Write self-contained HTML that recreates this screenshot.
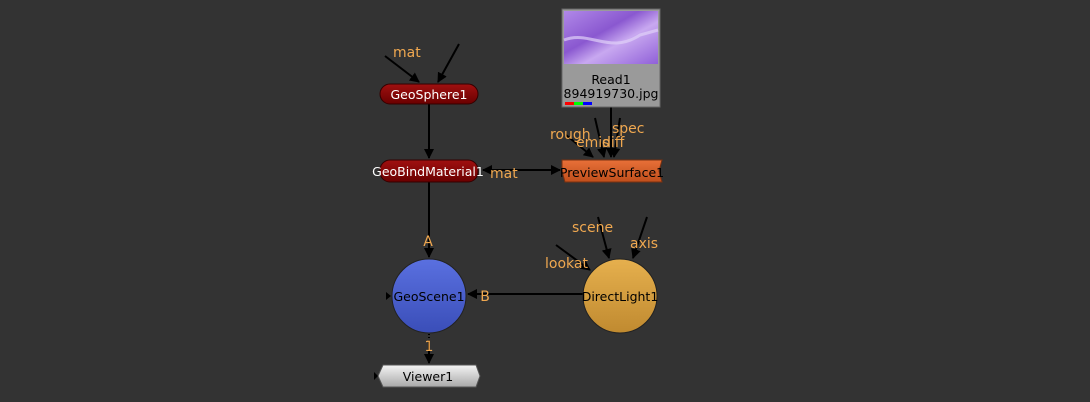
<!DOCTYPE html>
<html><head><style>
html,body{margin:0;padding:0;background:#333;overflow:hidden;width:1090px;height:402px;}
svg text{font-family:"DejaVu Sans","Liberation Sans",sans-serif;font-size:12.5px;}
svg text.l{fill:#f0a850;font-size:14px;}
</style></head><body>
<svg width="1090" height="402" viewBox="0 0 1090 402" xmlns="http://www.w3.org/2000/svg" style="display:block">
<defs>
<marker id="a" markerWidth="10" markerHeight="10" refX="9" refY="5" orient="auto" markerUnits="userSpaceOnUse"><path d="M0,0 L10,5 L0,10 z" fill="#000"/></marker>
<linearGradient id="red" x1="0" y1="0" x2="0" y2="1"><stop offset="0" stop-color="#a01010"/><stop offset="1" stop-color="#6a0000"/></linearGradient>
<linearGradient id="or" x1="0" y1="0" x2="0" y2="1"><stop offset="0" stop-color="#e87038"/><stop offset="1" stop-color="#c04f1c"/></linearGradient>
<linearGradient id="bl" x1="0" y1="0" x2="0" y2="1"><stop offset="0" stop-color="#5a70e0"/><stop offset="1" stop-color="#3a4eb8"/></linearGradient>
<linearGradient id="yl" x1="0" y1="0" x2="0" y2="1"><stop offset="0" stop-color="#e6b04e"/><stop offset="1" stop-color="#c08a30"/></linearGradient>
<linearGradient id="gr" x1="0" y1="0" x2="0" y2="1"><stop offset="0" stop-color="#f4f4f4"/><stop offset="1" stop-color="#a8a8a8"/></linearGradient>
<linearGradient id="pu" x1="0" y1="0" x2="1" y2="1"><stop offset="0" stop-color="#b088e8"/><stop offset="0.4" stop-color="#8a58d0"/><stop offset="0.6" stop-color="#c8a8f0"/><stop offset="1" stop-color="#9060d8"/></linearGradient>
</defs>
<g stroke="#000" stroke-width="2" fill="none">
<line x1="385" y1="56" x2="419" y2="82" marker-end="url(#a)"/>
<line x1="459" y1="44" x2="438" y2="82" marker-end="url(#a)"/>
<line x1="429" y1="104" x2="429" y2="158" marker-end="url(#a)"/>
<line x1="520" y1="170" x2="560" y2="170" marker-end="url(#a)"/>
<line x1="520" y1="170" x2="483" y2="170" marker-end="url(#a)"/>
<line x1="611" y1="107" x2="611" y2="157" marker-end="url(#a)"/>
<line x1="566" y1="135" x2="593" y2="157" marker-end="url(#a)"/>
<line x1="595" y1="118" x2="604" y2="157" marker-end="url(#a)"/>
<line x1="620" y1="118" x2="614" y2="157" marker-end="url(#a)"/>
<line x1="429" y1="182" x2="429" y2="257" marker-end="url(#a)"/>
<line x1="583" y1="294" x2="468" y2="294" marker-end="url(#a)"/>
<line x1="598" y1="217" x2="609" y2="258" marker-end="url(#a)"/>
<line x1="647" y1="217" x2="633" y2="258" marker-end="url(#a)"/>
<line x1="556" y1="245" x2="590" y2="270" marker-end="url(#a)"/>
<line x1="429" y1="334" x2="429" y2="342" stroke-dasharray="1,2"/>
<line x1="429" y1="342" x2="429" y2="363" marker-end="url(#a)"/>
</g>
<rect x="380" y="84" width="98" height="20" rx="10" fill="url(#red)" stroke="#300" stroke-width="1"/>
<text x="429" y="99" text-anchor="middle" fill="#fff">GeoSphere1</text>
<text x="393" y="57" class="l">mat</text>
<rect x="380" y="160" width="98" height="22" rx="10" fill="url(#red)" stroke="#300" stroke-width="1"/>
<text x="428" y="176" text-anchor="middle" fill="#fff">GeoBindMaterial1</text>
<text x="490" y="178" class="l">mat</text>
<rect x="562" y="9" width="98" height="98" fill="#9a9a9a" stroke="#666"/>
<rect x="564" y="11" width="94" height="53" fill="url(#pu)"/>
<path d="M564,40 C590,30 610,55 640,35 L658,30" stroke="#e0d0f8" stroke-width="3" fill="none" opacity="0.7"/>
<text x="611" y="84" text-anchor="middle" fill="#000">Read1</text>
<text x="611" y="98" text-anchor="middle" fill="#000">894919730.jpg</text>
<rect x="565" y="102" width="9" height="3" fill="#f00"/><rect x="574" y="102" width="9" height="3" fill="#0f0"/><rect x="583" y="102" width="9" height="3" fill="#00f"/>
<text x="550" y="139" class="l">rough</text>
<text x="576" y="147" class="l">emis</text>
<text x="602" y="147" class="l">diff</text>
<text x="612" y="133" class="l">spec</text>
<path d="M562,160 L662,160 L659,171 L662,182 L565,182 L562,171 z" fill="url(#or)" stroke="#7a3010"/>
<text x="612" y="177" text-anchor="middle" fill="#000">PreviewSurface1</text>
<text x="428" y="246" text-anchor="middle" class="l">A</text>
<circle cx="429" cy="296" r="37" fill="url(#bl)" stroke="#222"/>
<text x="429" y="301" text-anchor="middle" fill="#000">GeoScene1</text>
<path d="M386,292 L391,296 L386,300 z" fill="#000"/>
<text x="485" y="301" text-anchor="middle" class="l">B</text>
<circle cx="620" cy="296" r="37" fill="url(#yl)" stroke="#222"/>
<text x="620" y="301" text-anchor="middle" fill="#000">DirectLight1</text>
<text x="572" y="232" class="l">scene</text>
<text x="630" y="248" class="l">axis</text>
<text x="545" y="268" class="l">lookat</text>
<text x="429" y="351" text-anchor="middle" class="l">1</text>
<path d="M383,365 L476,365 L480,376 L476,387 L383,387 L378,376 z" fill="url(#gr)" stroke="#555"/>
<path d="M374,372 L378,376 L374,380 z" fill="#000"/>
<text x="428" y="381" text-anchor="middle" fill="#000">Viewer1</text>
</svg>
</body></html>
